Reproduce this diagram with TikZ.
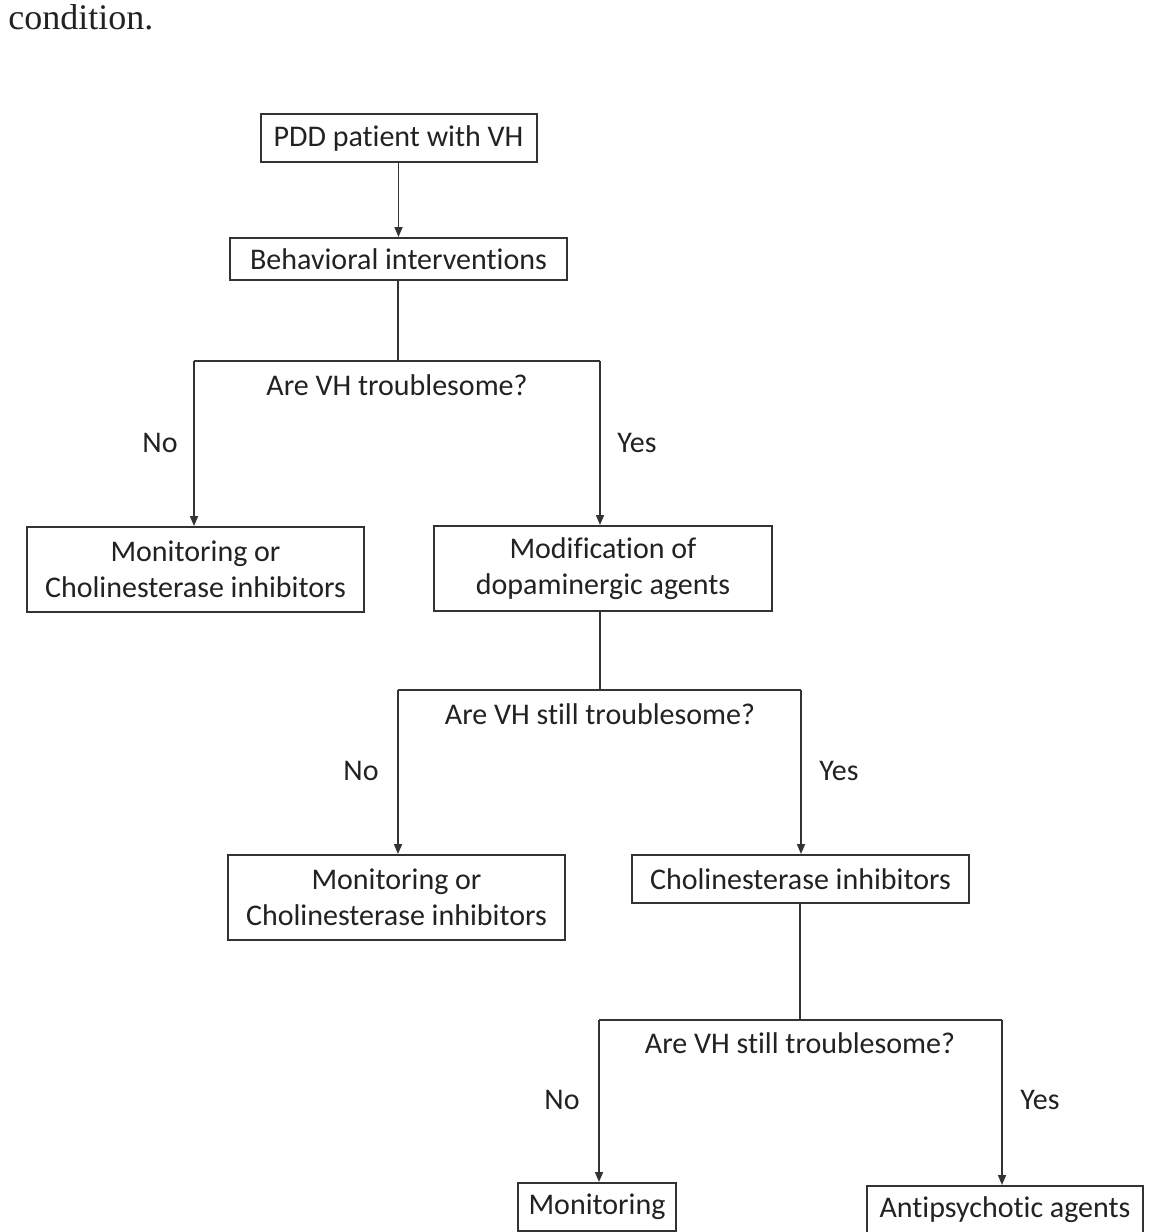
\documentclass[tikz,border=0pt]{standalone}
\usepackage{fontspec}
\setmainfont[Ligatures=NoCommon]{Carlito}
\newfontfamily\serifcap{Liberation Serif}
\usetikzlibrary{arrows.meta}
\definecolor{ink}{HTML}{222222}
\definecolor{edgec}{HTML}{333333}
\begin{document}
\begin{tikzpicture}[x=0.5pt,y=-0.5pt,
  box/.style={draw=edgec,line width=1pt,fill=white,text=ink,font=\fontsize{15}{18}\selectfont,align=center,inner sep=0pt},
  conn/.style={draw=edgec,line width=0.85pt},
  arr/.style={conn,-{Triangle[length=5pt,width=4pt]}},
  lbl/.style={text=ink,font=\fontsize{15}{18}\selectfont,inner sep=0pt}]
\useasboundingbox (0,0) rectangle (1161,1232);
\clip (0,0) rectangle (1161,1232);
\node[anchor=base west,inner sep=0pt,font=\serifcap\fontsize{18}{20}\selectfont,text=ink] (cond) at (8,29) {condition.};

% boxes
\node[box,minimum width=138pt,minimum height=24pt] (pdd) at (398.5,138) {PDD patient with VH};
\node[box,minimum width=168.5pt,minimum height=21pt] (beh) at (398.5,259) {Behavioral interventions};
\node[box,minimum width=168.5pt,minimum height=42.5pt] (mon1) at (195.5,569.5) {Monitoring or\\Cholinesterase inhibitors};
\node[box,minimum width=169pt,minimum height=42.5pt] (mod) at (603,568.5) {Modification of\\dopaminergic agents};
\node[box,minimum width=168.5pt,minimum height=42.5pt] (mon2) at (396.5,897.5) {Monitoring or\\Cholinesterase inhibitors};
\node[box,minimum width=168.5pt,minimum height=24pt] (chol) at (800.5,879) {Cholinesterase inhibitors};
\node[box,minimum width=79pt,minimum height=24pt] (mon3) at (597,1207) {Monitoring};
\node[box,minimum width=138pt,minimum height=24pt] (anti) at (1005,1210) {Antipsychotic agents};

% connectors
\draw[arr] (pdd.south) -- (pdd.south |- beh.north);

\coordinate (j1) at (398,361);
\coordinate (j1l) at (194,361);
\coordinate (j1r) at (600,361);
\draw[conn] (j1 |- beh.south) -- (j1);
\draw[conn] (j1l) -- (j1r);
\draw[arr] (j1l) -- (j1l |- mon1.north);
\draw[arr] (j1r) -- (j1r |- mod.north);

\coordinate (j2) at (600,690);
\coordinate (j2l) at (398,690);
\coordinate (j2r) at (801,690);
\draw[conn] (j2 |- mod.south) -- (j2);
\draw[conn] (j2l) -- (j2r);
\draw[arr] (j2l) -- (j2l |- mon2.north);
\draw[arr] (j2r) -- (j2r |- chol.north);

\coordinate (j3) at (800,1020);
\coordinate (j3l) at (599,1020);
\coordinate (j3r) at (1002,1020);
\draw[conn] (j3 |- chol.south) -- (j3);
\draw[conn] (j3l) -- (j3r);
\draw[arr] (j3l) -- (j3l |- mon3.north);
\draw[arr] (j3r) -- (j3r |- anti.north);

% labels
\node[lbl] (q1) at (397,385) {Are VH troublesome?};
\node[lbl] (no1) at (160,443) {No};
\node[lbl] (yes1) at (637,443) {Yes};
\node[lbl] (q2) at (600,714) {Are VH still troublesome?};
\node[lbl] (no2) at (361,771) {No};
\node[lbl] (yes2) at (839,771) {Yes};
\node[lbl] (q3) at (800,1043) {Are VH still troublesome?};
\node[lbl] (no3) at (562,1100) {No};
\node[lbl] (yes3) at (1040,1100) {Yes};
\end{tikzpicture}
\end{document}
